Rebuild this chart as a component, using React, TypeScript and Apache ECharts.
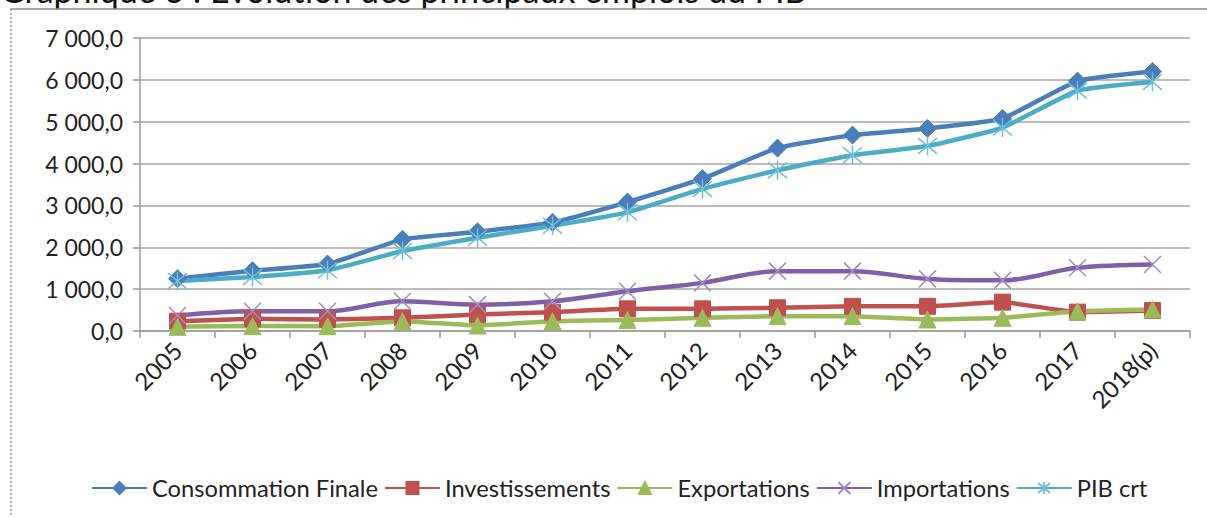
import React, { useEffect, useRef } from "react";
import * as echarts from "echarts";

const years = ["2005", "2006", "2007", "2008", "2009", "2010", "2011", "2012", "2013", "2014", "2015", "2016", "2017", "2018(p)"];
const consommation = [1250, 1440, 1600, 2190, 2370, 2595, 3080, 3640, 4370, 4680, 4840, 5080, 5970, 6200];
const investissements = [235, 290, 275, 315, 395, 450, 530, 530, 555, 590, 590, 690, 450, 490];
const exportations = [100, 120, 115, 235, 130, 235, 260, 315, 355, 355, 275, 315, 470, 515];
const importations = [370, 470, 470, 710, 630, 710, 950, 1150, 1430, 1430, 1245, 1210, 1510, 1590];
const pib = [1195, 1290, 1450, 1910, 2230, 2515, 2835, 3395, 3840, 4200, 4420, 4860, 5740, 5950];

const yTicks = { min: 0, max: 7000, interval: 1000 };
const title = "Graphique 3 : Evolution des principaux emplois du PIB";

const FONT = "Lato";
const symX = "path://M0,0L20,20M20,0L0,20";
const symAst = "path://M0,0L20,20M20,0L0,20M10,-2L10,22";

function fmt(v: number): string {
  const parts = v.toFixed(1).split(".");
  const int = parts[0].replace(/\B(?=(\d{3})+(?!\d))/g, " ");
  return int + "," + parts[1];
}

export default function App() {
  const ref = useRef<HTMLDivElement>(null);
  useEffect(() => {
    if (!ref.current) return;
    const chart = echarts.init(ref.current, null, { renderer: "svg" });
    const mk = (name: string, data: number[], color: string, symbol: string, size: number, smooth: number, pathSym = false, markerColor?: string) => ({
      name,
      type: "line",
      data,
      smooth,
      symbol,
      symbolSize: size,
      lineStyle: { color, width: 4.5 },
      itemStyle: pathSym
        ? { color: markerColor || color, borderColor: markerColor || color, borderWidth: 1.5 }
        : { color, borderColor: color, borderWidth: 1 },
      emphasis: { disabled: true },
      z: 2,
    });
    chart.setOption({
      animation: false,
      textStyle: { fontFamily: FONT },
      grid: { left: 140, right: 17, top: 38, bottom: 186 },
      legend: {
        left: 86,
        top: 471,
        itemWidth: 55,
        itemHeight: 15,
        itemGap: 6,
        textStyle: { fontFamily: FONT, fontSize: 23.7, color: "#222" },
        data: ["Consommation Finale", "Investissements", "Exportations", "Importations", "PIB crt"],
      },
      xAxis: {
        type: "category",
        data: years,
        boundaryGap: true,
        axisLine: { show: true, lineStyle: { color: "#9a9a9a", width: 1.5 } },
        axisTick: { show: true, length: 7, lineStyle: { color: "#9a9a9a", width: 1.5 } },
        axisLabel: { rotate: 45, fontSize: 24, color: "#222", fontFamily: FONT, margin: 15 },
        splitLine: { show: false },
      },
      yAxis: {
        type: "value",
        min: yTicks.min,
        max: yTicks.max,
        interval: yTicks.interval,
        axisLine: { show: true, lineStyle: { color: "#9a9a9a", width: 1.5 } },
        axisTick: { show: true, length: 7, lineStyle: { color: "#9a9a9a", width: 1.5 } },
        axisLabel: { fontSize: 23, color: "#222", fontFamily: FONT, margin: 17, formatter: (v: number) => fmt(v) },
        splitLine: { show: true, lineStyle: { color: "#a6a6a6", width: 1.5 } },
      },
      graphic: [
        {
          type: "text",
          left: 0,
          top: -28,
          style: { text: title, fontSize: 34, fontFamily: FONT, fill: "#111" },
          silent: true,
        },
        {
          type: "line",
          shape: { x1: 10, y1: 9, x2: 1207, y2: 9 },
          style: { stroke: "#8a8a8a", lineWidth: 1.5 },
          silent: true,
        },
        {
          type: "line",
          shape: { x1: 11, y1: 9, x2: 11, y2: 517 },
          style: { stroke: "#9a9a9a", lineWidth: 1.5, lineDash: [2, 2] },
          silent: true,
        },
      ],
      series: [
        mk("Consommation Finale", consommation, "#4A7EBB", "diamond", 18, 0.15),
        mk("Investissements", investissements, "#C0504D", "rect", 16, 0.1),
        mk("Exportations", exportations, "#9BBB59", "triangle", 17, 0.1),
        mk("Importations", importations, "#7F5FA8", symX, 17, 0.35, true, "#A08CC4"),
        mk("PIB crt", pib, "#4BACC6", symAst, 19, 0.15, true, "#6FC0D6"),
      ],
    });
    return () => chart.dispose();
  }, []);
  return <div ref={ref} style={{ position: "fixed", left: 0, top: 0, width: 1207, height: 517, background: "#fff" }} />;
}
